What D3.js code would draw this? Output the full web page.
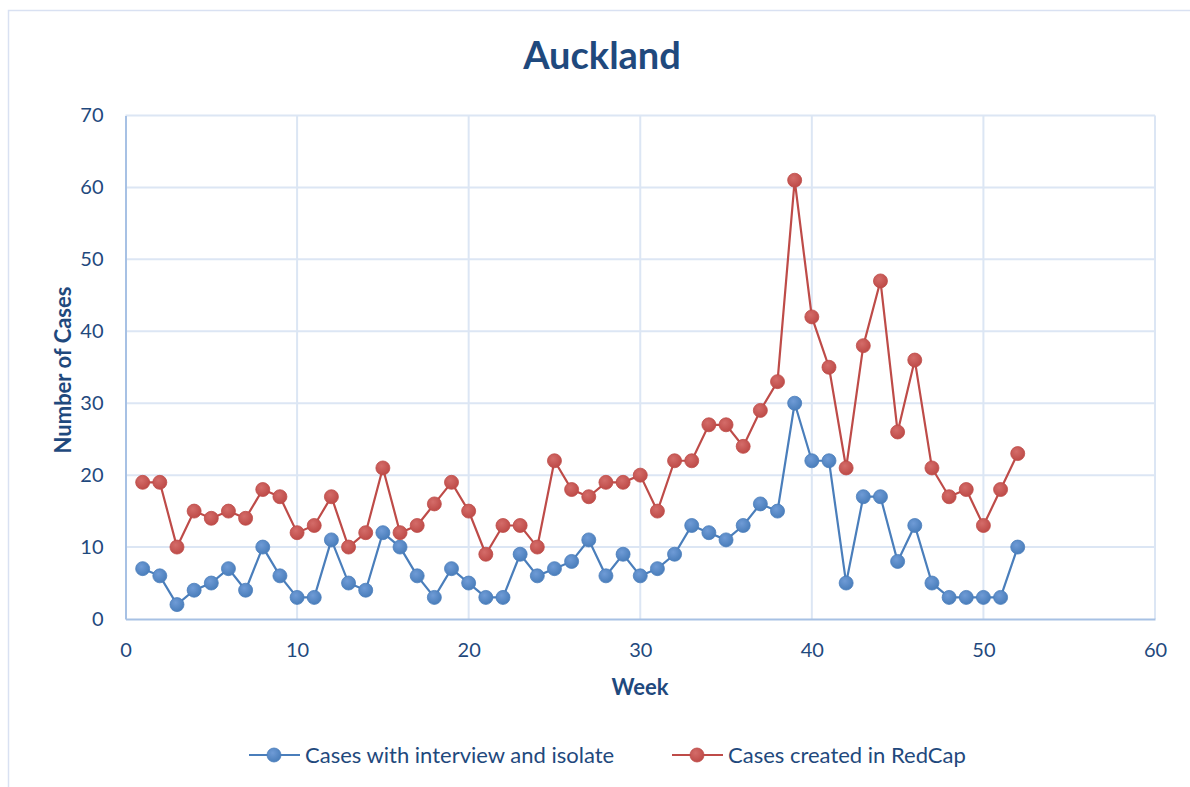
<!DOCTYPE html>
<html>
<head>
<meta charset="utf-8">
<script src="https://cdn.jsdelivr.net/npm/d3@7"></script>
<style>
  html, body { margin: 0; padding: 0; background: #fff; }
  svg { display: block; }
  text { font-family: Lato, "Open Sans", sans-serif; }
</style>
</head>
<body>
<svg id="chart" width="1190" height="787"></svg>
<script>
const title = "Auckland";
const xTitle = "Week";
const yTitle = "Number of Cases";
const seriesNames = ["Cases with interview and isolate", "Cases created in RedCap"];
const weeks = d3.range(1, 53);
const interviewIsolate = [7,6,2,4,5,7,4,10,6,3,3,11,5,4,12,10,6,3,7,5,3,3,9,6,7,8,11,6,9,6,7,9,13,12,11,13,16,15,30,22,22,5,17,17,8,13,5,3,3,3,3,10];
const redcap = [19,19,10,15,14,15,14,18,17,12,13,17,10,12,21,12,13,16,19,15,9,13,13,10,22,18,17,19,19,20,15,22,22,27,27,24,29,33,61,42,35,21,38,47,26,36,21,17,18,13,18,23];
const xTicks = [0,10,20,30,40,50,60];
const yTicks = [0,10,20,30,40,50,60,70];
const colors = ["#4A7EBB", "#BE4B48"];
const markerLight = ["#6F9BD6", "#D46C69"];

const svg = d3.select("#chart");
const textColor = "#1F497D";

// outer chart border
svg.append("rect").attr("x", 8.5).attr("y", 10.5).attr("width", 1200).attr("height", 800)
  .attr("fill", "none").attr("stroke", "#D9E1F2").attr("stroke-width", 1.5);

const pLeft = 125.5, pRight = 1155, pTop = 115.5, pBottom = 619;
const x = d3.scaleLinear().domain([0, 60]).range([pLeft, pRight]);
const y = d3.scaleLinear().domain([0, 70]).range([pBottom, pTop]);

// gradients for markers
const defs = svg.append("defs");
colors.forEach((c, i) => {
  const g = defs.append("radialGradient").attr("id", "mg" + i)
    .attr("cx", "40%").attr("cy", "35%").attr("r", "65%");
  g.append("stop").attr("offset", "0%").attr("stop-color", markerLight[i]);
  g.append("stop").attr("offset", "100%").attr("stop-color", c);
});

// gridlines
const grid = svg.append("g");
grid.selectAll(".hg").data(yTicks.filter(d => d > 0)).join("line")
  .attr("x1", pLeft).attr("x2", pRight).attr("y1", d => y(d)).attr("y2", d => y(d))
  .attr("stroke", "#DCE6F4").attr("stroke-width", 2);
grid.selectAll(".vg").data(xTicks.filter(d => d > 0)).join("line")
  .attr("y1", pTop).attr("y2", pBottom).attr("x1", d => x(d)).attr("x2", d => x(d))
  .attr("stroke", "#DCE6F4").attr("stroke-width", 2);

// axes
const xAxis = svg.append("g").attr("transform", `translate(0,${pBottom})`)
  .call(d3.axisBottom(x).tickValues(xTicks).tickSize(0).tickPadding(22));
const yAxis = svg.append("g").attr("transform", `translate(${pLeft},0)`)
  .call(d3.axisLeft(y).tickValues(yTicks).tickSize(0).tickPadding(22));
[xAxis, yAxis].forEach(a => {
  a.select(".domain").attr("stroke", "#A7C1E4").attr("stroke-width", 2);
  a.selectAll("text").attr("fill", textColor).style("font-size", "20px")
    .style("font-family", "Lato, sans-serif");
});
xAxis.selectAll("text").attr("dy", null).attr("y", 38);

// series
const data = [interviewIsolate, redcap];
const line = d3.line().x((d, i) => x(weeks[i])).y(d => y(d));
data.forEach((vals, si) => {
  svg.append("path").datum(vals).attr("d", line)
    .attr("fill", "none").attr("stroke", colors[si]).attr("stroke-width", 2.2);
});
data.forEach((vals, si) => {
  svg.append("g").selectAll("circle").data(vals).join("circle")
    .attr("cx", (d, i) => x(weeks[i])).attr("cy", d => y(d)).attr("r", 7)
    .attr("fill", `url(#mg${si})`).attr("stroke", colors[si]).attr("stroke-width", 0.8);
});

// title
svg.append("text").attr("x", 602).attr("y", 69).attr("text-anchor", "middle")
  .attr("fill", textColor).style("font-size", "38px").style("font-weight", "bold").text(title);

// axis titles
svg.append("text").attr("x", 640).attr("y", 695).attr("text-anchor", "middle")
  .attr("fill", textColor).style("font-size", "22px").style("font-weight", "bold").text(xTitle);
svg.append("text").attr("transform", "translate(71,370) rotate(-90)").attr("text-anchor", "middle")
  .attr("fill", textColor).style("font-size", "22px").style("font-weight", "bold").text(yTitle);

// legend
const legendItems = [
  { name: seriesNames[0], x0: 249, color: 0 },
  { name: seriesNames[1], x0: 672, color: 1 }
];
const lg = svg.append("g");
legendItems.forEach(it => {
  lg.append("line").attr("x1", it.x0).attr("x2", it.x0 + 51).attr("y1", 755).attr("y2", 755)
    .attr("stroke", colors[it.color]).attr("stroke-width", 2.2);
  lg.append("circle").attr("cx", it.x0 + 25).attr("cy", 755).attr("r", 7)
    .attr("fill", `url(#mg${it.color})`).attr("stroke", colors[it.color]).attr("stroke-width", 0.8);
  lg.append("text").attr("x", it.x0 + 56).attr("y", 763).attr("fill", textColor)
    .style("font-size", "22px").text(it.name);
});
</script>
</body>
</html>
